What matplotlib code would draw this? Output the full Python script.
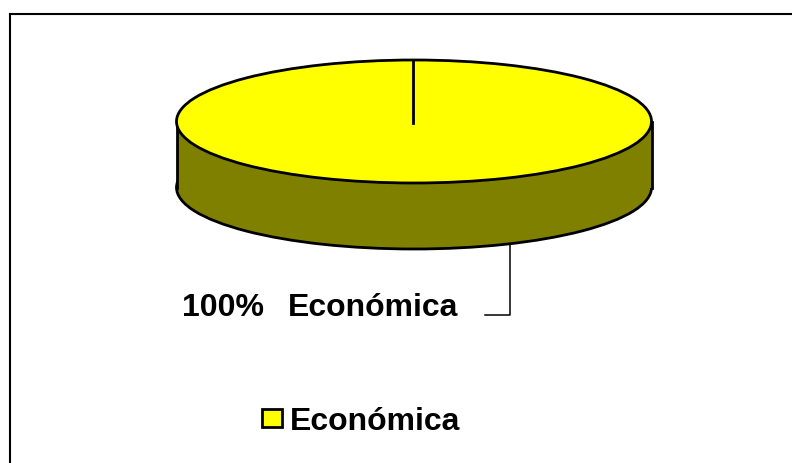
import matplotlib
matplotlib.use("Agg")
import matplotlib.pyplot as plt
from matplotlib.patches import Rectangle
from matplotlib.transforms import Affine2D

# data
labels = ["Económica"]
values = [100]
pct_labels = ["100%"]

TOP = "#ffff00"
SIDE = "#808000"

W, H = 792, 464
fig = plt.figure(figsize=(W / 100, H / 100), dpi=100)
ax = fig.add_axes([0, 0, 1, 1])

# 3d pie: lower disc, wall, top disc
cx, cy_top, depth, rx, ry = 414, 122.5, 66, 237.5, 61.5
LW = 2


def disc(cy, color, z):
    # pie in unit coords, squashed to an ellipse with a transform
    trans = Affine2D().scale(rx, ry).translate(cx, cy) + ax.transData
    ax.pie(values, colors=[color], startangle=90, radius=1,
           wedgeprops=dict(edgecolor="black", linewidth=LW, transform=trans, zorder=z))


disc(cy_top + depth, SIDE, 2)
ax.add_patch(Rectangle((cx - rx, cy_top), 2 * rx, depth, fc=SIDE, ec="none", zorder=3))
ax.plot([cx - rx, cx - rx], [cy_top, cy_top + depth], color="black", lw=LW, zorder=4)
ax.plot([cx + rx, cx + rx], [cy_top, cy_top + depth], color="black", lw=LW, zorder=4)
disc(cy_top, TOP, 5)
ax.plot([cx - 1, cx - 1], [cy_top - ry, cy_top + 1.5], color="black", lw=LW, zorder=6)

ax.set_aspect("auto")
ax.set_xlim(0, W)
ax.set_ylim(H, 0)
ax.axis("off")

# chart border, only top and left show in the crop
ax.plot([9.5, 9.5], [H, 14.5], color="black", lw=1.5, zorder=1)
ax.plot([9.5, W], [14.5, 14.5], color="black", lw=1.5, zorder=1)

# leader line
ax.plot([485, 510, 510], [316, 316, cy_top + depth + 55], color="black", lw=1.1, zorder=1)

font = dict(family="Liberation Sans", fontweight="bold", fontsize=23, color="black")
ax.text(182, 316, pct_labels[0], va="baseline", ha="left", **font)
ax.text(288, 316, labels[0], va="baseline", ha="left", **font)

# legend
ax.add_patch(Rectangle((262, 410), 20, 18, fc=TOP, ec="black", lw=LW))
ax.text(290, 430, labels[0], va="baseline", ha="left", **font)

fig.savefig("out.png", dpi=100)
